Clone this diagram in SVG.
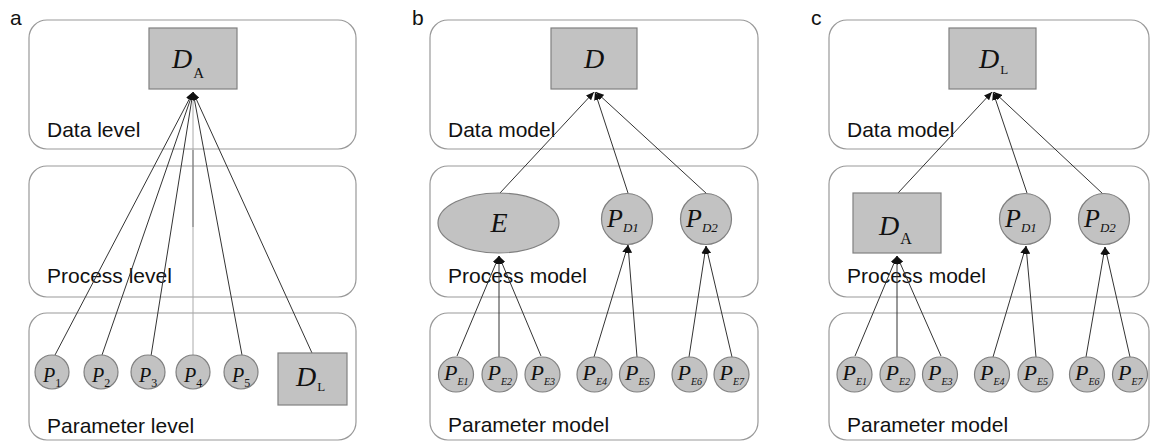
<svg xmlns="http://www.w3.org/2000/svg" width="1150" height="441" viewBox="0 0 1150 441">
<style>
.box{fill:none;stroke:#999;stroke-width:1.2}
.nd{fill:#c2c2c2;stroke:#808080;stroke-width:1.2}
.lbl{font-family:"Liberation Sans",Arial,sans-serif;font-size:21px;fill:#111}
.pl{font-family:"Liberation Sans",Arial,sans-serif;font-size:21px;fill:#111}
.m{font-family:"Liberation Serif","Times New Roman",serif;font-style:italic;fill:#111}
.up{font-family:"Liberation Serif","Times New Roman",serif;font-style:normal;fill:#111}
.c{stroke:#333;stroke-width:1;fill:none;marker-end:url(#ah)}
</style>
<defs>
<marker id="ah" markerUnits="userSpaceOnUse" markerWidth="8" markerHeight="7" refX="8" refY="3.5" orient="auto">
<path d="M0,0 L8,3.5 L0,7 z" fill="#111"/>
</marker>
</defs>
<rect width="1150" height="441" fill="#fff"/>

<!-- panel letters -->
<text class="pl" x="10" y="25">a</text>
<text class="pl" x="412" y="25">b</text>
<text class="pl" x="811" y="25">c</text>

<!-- level boxes -->
<g id="levels">
<rect class="box" x="29" y="20" width="327" height="129" rx="18"/>
<rect class="box" x="29" y="166" width="327" height="131" rx="18"/>
<rect class="box" x="29" y="313" width="327" height="127" rx="18"/>
<rect class="box" x="430" y="20" width="328" height="129" rx="18"/>
<rect class="box" x="430" y="166" width="328" height="131" rx="18"/>
<rect class="box" x="430" y="313" width="328" height="127" rx="18"/>
<rect class="box" x="829" y="20" width="320" height="129" rx="18"/>
<rect class="box" x="829" y="166" width="320" height="131" rx="18"/>
<rect class="box" x="829" y="313" width="320" height="127" rx="18"/>
<text class="lbl" x="47" y="137">Data level</text>
<text class="lbl" x="47" y="283">Process level</text>
<text class="lbl" x="47" y="433">Parameter level</text>
<text class="lbl" x="448" y="137">Data model</text>
<text class="lbl" x="448" y="283">Process model</text>
<text class="lbl" x="448" y="432">Parameter model</text>
<text class="lbl" x="847" y="137">Data model</text>
<text class="lbl" x="847" y="283">Process model</text>
<text class="lbl" x="847" y="432">Parameter model</text>
</g>

<!-- connectors -->
<g id="connectors">
<!-- a -->
<line class="c" x1="55" y1="355" x2="193" y2="92"/>
<line class="c" x1="102" y1="355" x2="193" y2="92"/>
<line class="c" x1="151" y1="356" x2="193" y2="92"/>
<line class="c" x1="193" y1="355" x2="193" y2="92" style="stroke:#aaa"/>
<line x1="193" y1="150" x2="193" y2="227" stroke="#777" stroke-width="1"/>
<line class="c" x1="242" y1="355" x2="193" y2="92"/>
<line class="c" x1="312" y1="353" x2="193" y2="92"/>
<!-- b -->
<line class="c" x1="500" y1="193" x2="594" y2="92"/>
<line class="c" x1="628" y1="193" x2="595" y2="92"/>
<line class="c" x1="707" y1="194" x2="596" y2="92"/>
<line class="c" x1="457" y1="356" x2="499" y2="256"/>
<line class="c" x1="499" y1="357" x2="499" y2="256"/>
<line class="c" x1="541" y1="356" x2="499" y2="256"/>
<line class="c" x1="594" y1="357" x2="628" y2="245"/>
<line class="c" x1="637" y1="357" x2="628" y2="245"/>
<line class="c" x1="689" y1="357" x2="706" y2="246"/>
<line class="c" x1="732" y1="357" x2="706" y2="246"/>
<!-- c -->
<line class="c" x1="898" y1="193" x2="992" y2="92"/>
<line class="c" x1="1027" y1="193" x2="993" y2="92"/>
<line class="c" x1="1103" y1="194" x2="994" y2="92"/>
<line class="c" x1="855" y1="356" x2="897" y2="256"/>
<line class="c" x1="897" y1="357" x2="897" y2="256"/>
<line class="c" x1="941" y1="356" x2="897" y2="256"/>
<line class="c" x1="993" y1="357" x2="1026" y2="246"/>
<line class="c" x1="1036" y1="357" x2="1026" y2="246"/>
<line class="c" x1="1086" y1="357" x2="1105" y2="247"/>
<line class="c" x1="1130" y1="357" x2="1105" y2="247"/>
</g>

<!-- panel a nodes -->
<g id="a-DA">
<rect class="nd" x="149" y="28" width="88" height="61"/>
<text class="m" x="172" y="68" font-size="28">D<tspan class="up" font-size="15" dx="1" dy="10">A</tspan></text>
</g>
<g id="a-P1"><circle class="nd" cx="52" cy="372" r="17"/><text class="m" x="43" y="382" font-size="20">P<tspan class="up" font-size="12" dy="5">1</tspan></text></g>
<g id="a-P2"><circle class="nd" cx="101" cy="372" r="17"/><text class="m" x="92" y="382" font-size="20">P<tspan class="up" font-size="12" dy="5">2</tspan></text></g>
<g id="a-P3"><circle class="nd" cx="148" cy="372" r="17"/><text class="m" x="139" y="382" font-size="20">P<tspan class="up" font-size="12" dy="5">3</tspan></text></g>
<g id="a-P4"><circle class="nd" cx="193" cy="372" r="17"/><text class="m" x="184" y="382" font-size="20">P<tspan class="up" font-size="12" dy="5">4</tspan></text></g>
<g id="a-P5"><circle class="nd" cx="241" cy="372" r="17"/><text class="m" x="232" y="382" font-size="20">P<tspan class="up" font-size="12" dy="5">5</tspan></text></g>
<g id="a-DL">
<rect class="nd" x="278" y="353" width="69" height="52"/>
<text class="m" x="296" y="386" font-size="28">D<tspan class="up" font-size="13" dx="1" dy="5">L</tspan></text>
</g>

<!-- panel b nodes -->
<g id="b-D">
<rect class="nd" x="551" y="28" width="86" height="61"/>
<text class="m" x="594" y="68" font-size="28" text-anchor="middle">D</text>
</g>
<g id="b-E">
<ellipse class="nd" cx="498.5" cy="223" rx="60.5" ry="30"/>
<text class="m" x="499" y="232" font-size="28" text-anchor="middle">E</text>
</g>
<g id="b-PD1"><circle class="nd" cx="627" cy="219" r="25.5"/><text class="m" x="607" y="227" font-size="26">P<tspan font-size="13" dy="5">D1</tspan></text></g>
<g id="b-PD2"><circle class="nd" cx="706" cy="219" r="25.5"/><text class="m" x="686" y="227" font-size="26">P<tspan font-size="13" dy="5">D2</tspan></text></g>
<g id="b-PE1"><circle class="nd" cx="456" cy="374.5" r="17.5"/><text class="m" x="444" y="380" font-size="22">P<tspan font-size="10" dy="5">E1</tspan></text></g>
<g id="b-PE2"><circle class="nd" cx="499.5" cy="374.5" r="17.5"/><text class="m" x="487.5" y="380" font-size="22">P<tspan font-size="10" dy="5">E2</tspan></text></g>
<g id="b-PE3"><circle class="nd" cx="542.5" cy="374.5" r="17.5"/><text class="m" x="530.5" y="380" font-size="22">P<tspan font-size="10" dy="5">E3</tspan></text></g>
<g id="b-PE4"><circle class="nd" cx="594.5" cy="374.5" r="17.5"/><text class="m" x="582.5" y="380" font-size="22">P<tspan font-size="10" dy="5">E4</tspan></text></g>
<g id="b-PE5"><circle class="nd" cx="637" cy="374.5" r="17.5"/><text class="m" x="625" y="380" font-size="22">P<tspan font-size="10" dy="5">E5</tspan></text></g>
<g id="b-PE6"><circle class="nd" cx="689.5" cy="374.5" r="17.5"/><text class="m" x="677.5" y="380" font-size="22">P<tspan font-size="10" dy="5">E6</tspan></text></g>
<g id="b-PE7"><circle class="nd" cx="731.5" cy="374.5" r="17.5"/><text class="m" x="719.5" y="380" font-size="22">P<tspan font-size="10" dy="5">E7</tspan></text></g>

<!-- panel c nodes -->
<g id="c-DL">
<rect class="nd" x="949" y="28" width="87" height="61"/>
<text class="m" x="979" y="68" font-size="28">D<tspan class="up" font-size="13" dx="1" dy="6">L</tspan></text>
</g>
<g id="c-DA">
<rect class="nd" x="853" y="193" width="88" height="60"/>
<text class="m" x="879" y="235" font-size="28">D<tspan class="up" font-size="16" dx="1" dy="9">A</tspan></text>
</g>
<g id="c-PD1"><circle class="nd" cx="1025" cy="219" r="25.5"/><text class="m" x="1005" y="227" font-size="26">P<tspan font-size="13" dy="5">D1</tspan></text></g>
<g id="c-PD2"><circle class="nd" cx="1104" cy="219" r="25.5"/><text class="m" x="1084" y="227" font-size="26">P<tspan font-size="13" dy="5">D2</tspan></text></g>
<g id="c-PE1"><circle class="nd" cx="854.5" cy="374.5" r="17.5"/><text class="m" x="842.5" y="380" font-size="22">P<tspan font-size="10" dy="5">E1</tspan></text></g>
<g id="c-PE2"><circle class="nd" cx="897.5" cy="374.5" r="17.5"/><text class="m" x="885.5" y="380" font-size="22">P<tspan font-size="10" dy="5">E2</tspan></text></g>
<g id="c-PE3"><circle class="nd" cx="940" cy="374.5" r="17.5"/><text class="m" x="928" y="380" font-size="22">P<tspan font-size="10" dy="5">E3</tspan></text></g>
<g id="c-PE4"><circle class="nd" cx="992" cy="374.5" r="17.5"/><text class="m" x="980" y="380" font-size="22">P<tspan font-size="10" dy="5">E4</tspan></text></g>
<g id="c-PE5"><circle class="nd" cx="1035.5" cy="374.5" r="17.5"/><text class="m" x="1023.5" y="380" font-size="22">P<tspan font-size="10" dy="5">E5</tspan></text></g>
<g id="c-PE6"><circle class="nd" cx="1087" cy="374.5" r="17.5"/><text class="m" x="1075" y="380" font-size="22">P<tspan font-size="10" dy="5">E6</tspan></text></g>
<g id="c-PE7"><circle class="nd" cx="1130" cy="374.5" r="17.5"/><text class="m" x="1118" y="380" font-size="22">P<tspan font-size="10" dy="5">E7</tspan></text></g>
</svg>
